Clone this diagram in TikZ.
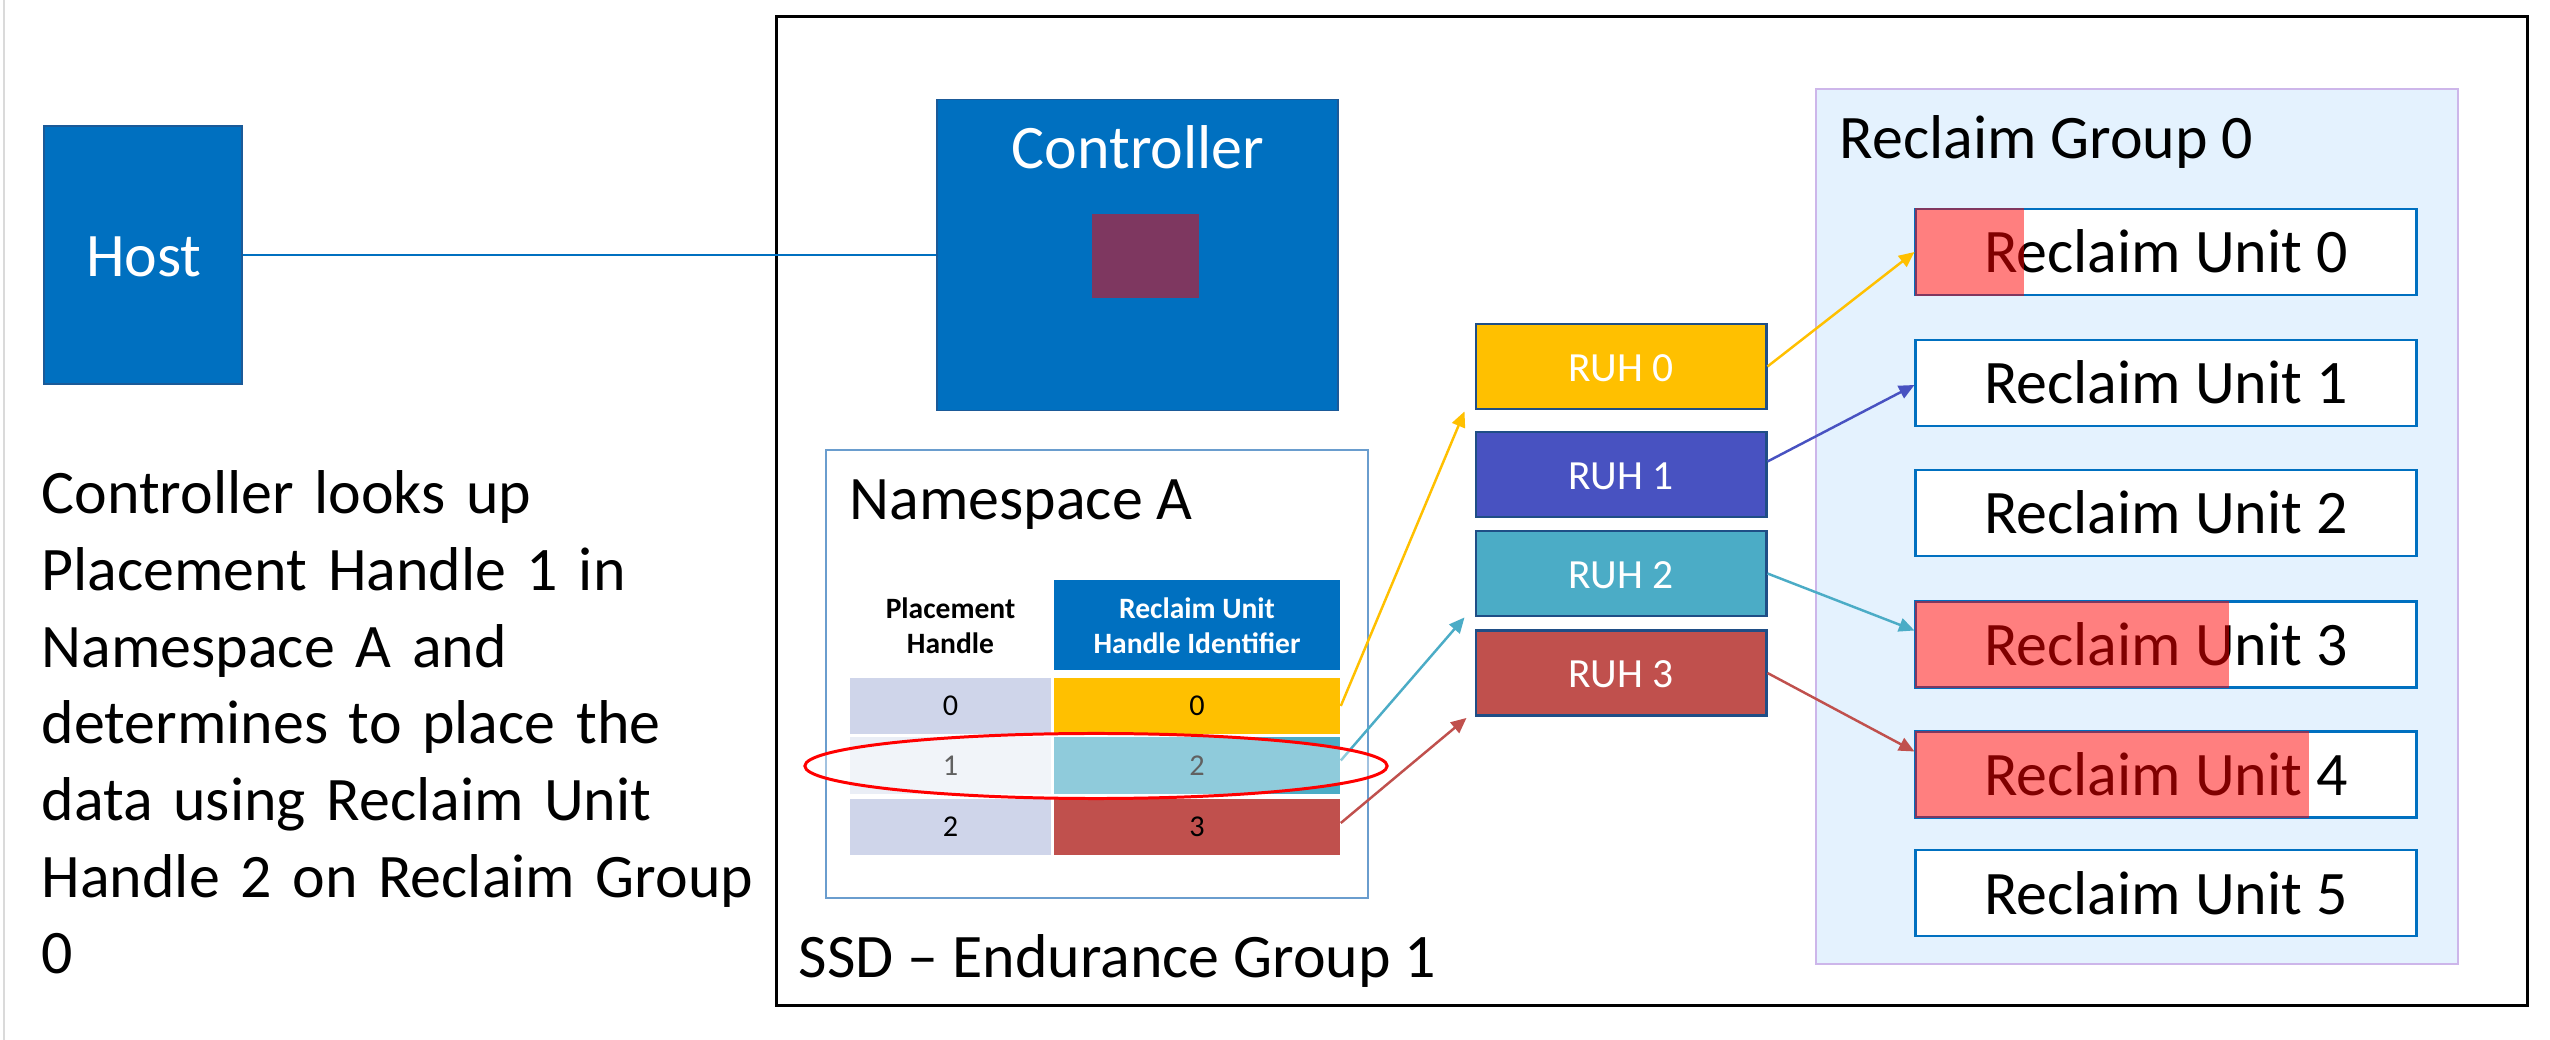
\documentclass[tikz,border=0pt]{standalone}
\usepackage{fontspec}
\setmainfont{Carlito}
\usetikzlibrary{shapes.geometric,arrows.meta,calc}
\definecolor{msblue}{HTML}{0070C0}
\definecolor{msblueborder}{HTML}{1B5A98}
\definecolor{chip}{HTML}{7E3760}
\definecolor{nsborder}{HTML}{6A9DCE}
\definecolor{colA}{HTML}{CFD5EA}
\definecolor{colAlight}{HTML}{EAEEF6}
\definecolor{ruhyellow}{HTML}{FFC000}
\definecolor{ruhblue}{HTML}{4852C1}
\definecolor{ruhcyan}{HTML}{4BACC6}
\definecolor{ruhred}{HTML}{C0504D}
\definecolor{ruhborder}{HTML}{1F4E86}
\definecolor{rgfill}{HTML}{E4F2FE}
\definecolor{rgborder}{HTML}{CDB6EA}
\definecolor{edgegray}{HTML}{DADADA}
\tikzset{
  bigtext/.style={font=\fontsize{17.6pt}{21.8pt}\selectfont},
  solidbox/.style={draw=msblueborder, line width=0.45pt, fill=msblue, inner sep=0},
  ruhbox/.style={draw=ruhborder, line width=0.8pt, inner sep=0, minimum width=2.9cm, minimum height=0.85cm},
  rubox/.style={draw=msblue, line width=0.8pt, fill=white, inner sep=0, minimum width=5.0cm, minimum height=0.86cm},
  cellA/.style={inner sep=0, minimum width=2.01cm, minimum height=0.56cm, font=\fontsize{8.6pt}{10pt}\selectfont},
  cellB/.style={inner sep=0, minimum width=2.86cm, minimum height=0.56cm, font=\fontsize{8.6pt}{10pt}\selectfont},
  hdr/.style={inner sep=0, align=center, font=\fontsize{8.4pt}{10pt}\selectfont\bfseries},
  conn/.style={line width=0.7pt, -{Triangle[length=4.4pt,width=3.9pt]}},
  lbl/.style={inner sep=0, bigtext},
}
\begin{document}
\begin{tikzpicture}[x=0.01cm,y=-0.01cm]
\useasboundingbox (0,0) rectangle (2550,1040);
\fill[white] (0,0) rectangle (2550,1040);
\draw[edgegray, line width=0.6pt] (4,0) -- (4,1040);

% SSD enclosure
\node[draw=black, line width=0.85pt, inner sep=0, minimum width=17.5cm, minimum height=9.88cm] (ssd) at (1652,511) {};
\node[lbl, anchor=base west] (ssdlabel) at (798,978) {SSD – Endurance Group 1};

% Host
\node[solidbox, minimum width=1.98cm, minimum height=2.58cm] (host) at (143,255) {};
\node[lbl, anchor=base, text=white] (hostlabel) at (144,277) {Host};

% Controller
\node[solidbox, minimum width=4.01cm, minimum height=3.11cm] (ctrl) at (1137.5,255) {};
\node[lbl, anchor=base, text=white] (ctrllabel) at (1138,169) {Controller};
\node[fill=chip, inner sep=0, minimum width=1.07cm, minimum height=0.84cm] (chipbox) at (1145.5,256) {};

\draw[msblue, line width=0.5pt] (host.east) -- (ctrl.west);

% Explanation
\node[lbl, anchor=base west, align=left, text width=8.5cm] (note) at (41,514)
  {Controller looks up\\Placement Handle 1 in\\Namespace A and\\determines to place the\\data using Reclaim Unit\\Handle 2 on Reclaim Group\\0};

% Namespace A
\node[draw=nsborder, line width=0.6pt, fill=white, inner sep=0, minimum width=5.42cm, minimum height=4.48cm] (ns) at (1097,674) {};
\node[lbl, anchor=base west] (nslabel) at (849,520) {Namespace A};

\node[hdr] (hdrA) at (950.5,626) {Placement\\Handle};
\node[fill=msblue, inner sep=0, minimum width=2.86cm, minimum height=0.9cm] (hdrBbox) at (1197,625) {};
\node[hdr, text=white] (hdrB) at (1197,626) {Reclaim Unit\\Handle Identifier};

\node[cellA, fill=colA] (pA0) at (950.5,706) {0};
\node[cellA, fill=colAlight] (pA1) at (950.5,765.5) {1};
\node[cellA, fill=colA] (pA2) at (950.5,827) {2};
\node[cellB, fill=ruhyellow] (rB0) at (1197,706) {0};
\node[cellB, fill=ruhcyan] (rB1) at (1197,765.5) {2};
\node[cellB, fill=ruhred] (rB2) at (1197,827) {3};

% RUH boxes
\node[ruhbox, fill=ruhyellow] (ruh0) at (1621,366.5) {};
\node[ruhbox, fill=ruhblue] (ruh1) at (1621,474.5) {};
\node[ruhbox, fill=ruhcyan] (ruh2) at (1621,573.5) {};
\node[ruhbox, fill=ruhred] (ruh3) at (1621,673) {};
\foreach \n/\y in {0/382, 1/490, 2/589, 3/688}{
  \node[inner sep=0, anchor=base, text=white, font=\fontsize{11.8pt}{14pt}\selectfont] (ruhtext\n) at (1621,\y) {RUH \n};
}

% table -> RUH connectors
\draw[conn, ruhyellow] (rB0.east) -- ($(ruh0.south west)+(-10,1)$);
\draw[conn, ruhcyan] ($(rB1.east)+(0,-5)$) -- ($(ruh2.south west)+(-10,0)$);
\draw[conn, ruhred] ($(rB2.east)+(0,-4)$) -- ($(ruh3.south west)+(-8,1)$);

% selection ellipse
\node[ellipse, draw=red, line width=0.85pt, fill=white, fill opacity=0.38, draw opacity=1, inner sep=0, minimum width=5.82cm, minimum height=0.65cm] (sel) at (1096,766) {};

% Reclaim Group 0
\node[draw=rgborder, line width=0.55pt, fill=rgfill, inner sep=0, minimum width=6.42cm, minimum height=8.75cm] (rg) at (2137,526.5) {};
\node[lbl, anchor=base west] (rglabel) at (1839,159) {Reclaim Group 0};

\foreach \n/\y in {0/252, 1/383, 2/513, 3/644.5, 4/774.5, 5/893}{
  \node[rubox] (ru\n) at (2166,\y) {};
  \node[lbl, anchor=base] (rutext\n) at (2166,\y+21) {Reclaim Unit \n};
}
% written (filled) portions
\fill[red, fill opacity=0.5] (1915,208) rectangle (2024,296);
\fill[red, fill opacity=0.5] (1915,601) rectangle (2229,688);
\fill[red, fill opacity=0.5] (1915,731) rectangle (2309,818);

% RUH -> Reclaim Unit connectors
\draw[conn, ruhyellow] (ruh0.east) -- (ru0.west);
\draw[conn, ruhblue] ($(ruh1.east)+(0,-13)$) -- ($(ru1.west)+(0,2)$);
\draw[conn, ruhcyan] (ruh2.east) -- ($(ru3.west)+(0,-14)$);
\draw[conn, ruhred] (ruh3.east) -- ($(ru4.west)+(0,-23)$);
\end{tikzpicture}
\end{document}
